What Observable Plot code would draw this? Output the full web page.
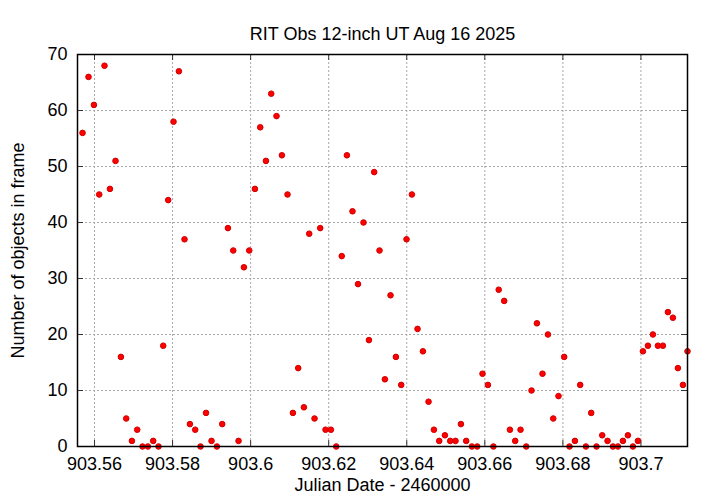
<!DOCTYPE html>
<html>
<head>
<meta charset="utf-8">
<script src="https://cdn.jsdelivr.net/npm/d3@7"></script>
<script src="https://cdn.jsdelivr.net/npm/@observablehq/plot@0.6"></script>
<style>
  html, body { margin: 0; padding: 0; background: #fff; }
</style>
</head>
<body>
<div id="chart"></div>
<script>
const title = "RIT Obs 12-inch UT Aug 16 2025";
const xLabel = "Julian Date - 2460000";
const yLabel = "Number of objects in frame";

const julianDate = [
  903.55693, 903.55846, 903.55985, 903.56120, 903.56256, 903.56395, 903.56538, 903.56676,
  903.56812, 903.56958, 903.57094, 903.57230, 903.57368, 903.57504, 903.57640, 903.57760,
  903.57888, 903.58024, 903.58162, 903.58306, 903.58444, 903.58580, 903.58716, 903.58857,
  903.58998, 903.59136, 903.59272, 903.59418, 903.59554, 903.59690, 903.59828, 903.59964,
  903.60110, 903.60246, 903.60392, 903.60527, 903.60663, 903.60801, 903.60945, 903.61083,
  903.61219, 903.61365, 903.61501, 903.61637, 903.61783, 903.61919, 903.62057, 903.62193,
  903.62334, 903.62467, 903.62610, 903.62751, 903.62892, 903.63031, 903.63166, 903.63302,
  903.63440, 903.63584, 903.63722, 903.63858, 903.63994, 903.64132, 903.64276, 903.64414,
  903.64558, 903.64696, 903.64832, 903.64978, 903.65114, 903.65249, 903.65388, 903.65523,
  903.65669, 903.65805, 903.65941, 903.66079, 903.66220, 903.66356, 903.66497, 903.66643,
  903.66779, 903.66915, 903.67061, 903.67197, 903.67335, 903.67478, 903.67617, 903.67753,
  903.67888, 903.68034, 903.68170, 903.68309, 903.68444, 903.68590, 903.68726, 903.68862,
  903.69008, 903.69144, 903.69282, 903.69410, 903.69538, 903.69666, 903.69795, 903.69923,
  903.70051, 903.70179, 903.70307, 903.70435, 903.70563, 903.70691, 903.70819, 903.70947,
  903.71076, 903.71193
];

const objectCount = [
  56, 66, 61, 45, 68, 46, 51, 16,
  5, 1, 3, 0, 0, 1, 0, 18,
  44, 58, 67, 37, 4, 3, 0, 6,
  1, 0, 4, 39, 35, 1, 32, 35,
  46, 57, 51, 63, 59, 52, 45, 6,
  14, 7, 38, 5, 39, 3, 3, 0,
  34, 52, 42, 29, 40, 19, 49, 35,
  12, 27, 16, 11, 37, 45, 21, 17,
  8, 3, 1, 2, 1, 1, 4, 1,
  0, 0, 13, 11, 0, 28, 26, 3,
  1, 3, 0, 10, 22, 13, 20, 5,
  9, 16, 0, 1, 11, 0, 6, 0,
  2, 1, 0, 0, 1, 2, 0, 1,
  17, 18, 20, 18, 18, 24, 23, 14,
  11, 17
];

const xTicks = [903.56, 903.58, 903.60, 903.62, 903.64, 903.66, 903.68, 903.70];
const yTicks = [0, 10, 20, 30, 40, 50, 60, 70];
const xDomain = [903.55564, 903.71193];
const yDomain = [0, 70];

const data = julianDate.map((x, i) => ({x, y: objectCount[i]}));

const W = 720, H = 504;
const mL = 77, mR = 33, mT = 54, mB = 58;
const innerH = H - mT - mB;
const innerW = W - mL - mR;
const tickLen = 6;
const fmtX = d => String(+d.toFixed(2));

const chart = Plot.plot({
  width: W,
  height: H,
  marginLeft: mL,
  marginRight: mR,
  marginTop: mT,
  marginBottom: mB,
  style: {fontSize: "18px", fontFamily: "'Liberation Sans', Arial, Helvetica, sans-serif", background: "#fff", color: "#000"},
  x: {domain: xDomain},
  y: {domain: yDomain},
  marks: [
    Plot.gridX(xTicks, {stroke: "#a8a8a8", strokeOpacity: 1, strokeDasharray: "2,2"}),
    Plot.gridY(yTicks, {stroke: "#a8a8a8", strokeOpacity: 1, strokeDasharray: "2,2"}),
    Plot.ruleX(xTicks, {insetTop: innerH - tickLen, stroke: "#333"}),
    Plot.ruleX(xTicks, {insetBottom: innerH - tickLen, stroke: "#333"}),
    Plot.ruleY(yTicks, {insetRight: innerW - tickLen, stroke: "#333"}),
    Plot.ruleY(yTicks, {insetLeft: innerW - tickLen, stroke: "#333"}),
    Plot.axisX(xTicks, {tickSize: 0, tickPadding: 11, tickFormat: fmtX, label: null}),
    Plot.axisY(yTicks, {tickSize: 0, tickPadding: 10, label: null}),
    Plot.dot(data, {x: "x", y: "y", r: 2.8, fill: "#ff0000", stroke: "#d00000", strokeWidth: 1}),
    Plot.frame({stroke: "#000", strokeWidth: 1.5}),
    Plot.text([title], {frameAnchor: "top", dy: -27, fontSize: 18}),
    Plot.text([xLabel], {frameAnchor: "bottom", dy: 44, fontSize: 18}),
    Plot.text([yLabel], {frameAnchor: "left", textAnchor: "middle", dx: -59, rotate: -90, fontSize: 18})
  ]
});

document.getElementById("chart").appendChild(chart);
</script>
</body>
</html>
